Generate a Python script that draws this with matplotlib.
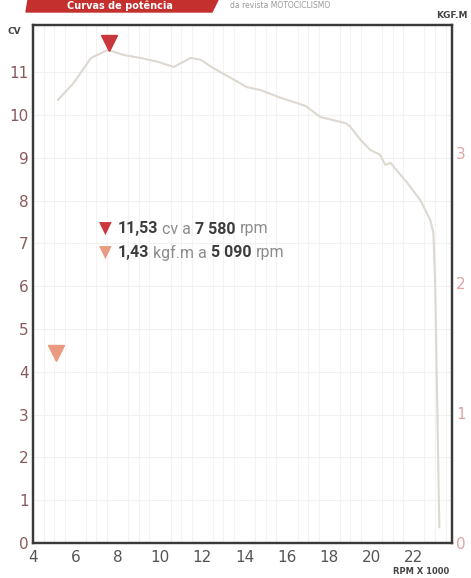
import matplotlib.pyplot as plt
from matplotlib.patches import Polygon

# power curve (rpm x 1000, cv)
rpm = [5.18, 5.93, 6.74, 7.54, 8.29, 9.09, 9.9, 10.65, 11.45, 11.92, 12.5, 13.5,
       14.1, 14.75, 15.7, 16.88, 17.58, 18.76, 19.0, 19.47, 19.94, 20.4, 20.65,
       20.89, 21.69, 22.3, 22.77, 22.92, 23.0, 23.1, 23.2]
cv = [10.35, 10.75, 11.33, 11.52, 11.40, 11.33, 11.24, 11.12, 11.33, 11.29, 11.1, 10.82,
      10.65, 10.58, 10.4, 10.21, 9.95, 9.81, 9.72, 9.42, 9.18, 9.07, 8.83,
      8.88, 8.41, 8.01, 7.55, 7.24, 6.14, 3.34, 0.37]

peak_power = (7.58, 11.53)   # rpm, cv
peak_torque = (5.09, 1.43)   # rpm, kgf.m

x_ticks = [4, 6, 8, 10, 12, 14, 16, 18, 20, 22]
cv_ticks = list(range(0, 12))
kgf_ticks = [0, 1, 2, 3]

red = '#c9363b'
salmon = '#e99a80'
curve_col = '#ddd8d0'

fig = plt.figure(figsize=(4.71, 5.78), dpi=100)
W, H = 471, 578
ax = fig.add_axes([33 / W, 1 - 543 / H, (452 - 33) / W, (543 - 25) / H])
ax2 = ax.twinx()

ax.plot(rpm, cv, color=curve_col, lw=1.5, solid_joinstyle='round')

# peak markers, sitting just above the value
ax.plot([peak_power[0]], [peak_power[1] + 0.15], marker='v', ms=12, color=red, ls='none')
ax2.plot([peak_torque[0]], [peak_torque[1] + 0.03], marker='v', ms=12, color=salmon, ls='none')

ax.set_xlim(4, 23.8)
ax.set_ylim(0, 12.1)
ax2.set_ylim(0, 3.98)
ax.set_xticks(x_ticks)
ax.set_yticks(cv_ticks)
ax2.set_yticks(kgf_ticks)

for a in (ax, ax2):
    a.tick_params(length=0, pad=4)
    for s in a.spines.values():
        s.set_color('#3a3a3a')
        s.set_linewidth(1.6)
ax.tick_params(axis='x', labelsize=11, labelcolor='#555555', pad=5)
ax.tick_params(axis='y', labelsize=11, labelcolor='#8a5a5e', pad=3)
ax2.tick_params(axis='y', labelsize=11, labelcolor='#e0a4a4', pad=3)

# faint background grid
ax.set_xticks([4 + 0.5 * i for i in range(40)], minor=True)
ax.tick_params(which='minor', length=0)
ax.grid(which='minor', axis='x', color='#f3f3f3', lw=0.8)
ax.grid(which='major', axis='y', color='#f1f1f1', lw=0.8)
ax.set_axisbelow(True)

# legend text built from pieces
fig.canvas.draw()
renderer = fig.canvas.get_renderer()


def line_of_text(x, y, pieces, tri_color):
    fig.text(x / W, 1 - y / H, '\u25BC', color=tri_color, fontsize=12,
             va='center', ha='left')
    cur = x + 19
    for txt, bold in pieces:
        t = fig.text(cur / W, 1 - y / H, txt, fontsize=11.5,
                     fontweight='bold' if bold else 'normal',
                     color='#3c3c3c' if bold else '#8c8c8c',
                     family='Roboto', va='center', ha='left')
        bb = t.get_window_extent(renderer)
        cur += bb.width + 4


line_of_text(99, 229, [('11,53', True), ('cv a', False), ('7 580', True), ('rpm', False)], red)
line_of_text(99, 253, [('1,43', True), ('kgf.m a', False), ('5 090', True), ('rpm', False)], salmon)

# header banner and labels
fig.patches.append(Polygon([[28 / W, 1], [218 / W, 1], [212 / W, 1 - 12 / H], [26 / W, 1 - 12 / H]],
                           closed=True, transform=fig.transFigure, color='#c4302e'))
fig.text(120 / W, 1 - 6 / H, 'Curvas de potência', color='white', fontsize=7,
         fontweight='bold', va='center', ha='center')
fig.text(230 / W, 1 - 6 / H, 'da revista MOTOCICLISMO', color='#999999', fontsize=5.5,
         va='center', ha='left')
fig.text(14 / W, 1 - 31 / H, 'CV', color='#444444', fontsize=6.5, fontweight='bold',
         va='center', ha='center')
fig.text(452 / W, 1 - 16 / H, 'KGF.M', color='#444444', fontsize=6.5, fontweight='bold',
         va='center', ha='center')
fig.text(421 / W, 1 - 571 / H, 'RPM X 1000', color='#444444', fontsize=6, fontweight='bold',
         va='center', ha='center')

fig.savefig('out.png', dpi=100)
